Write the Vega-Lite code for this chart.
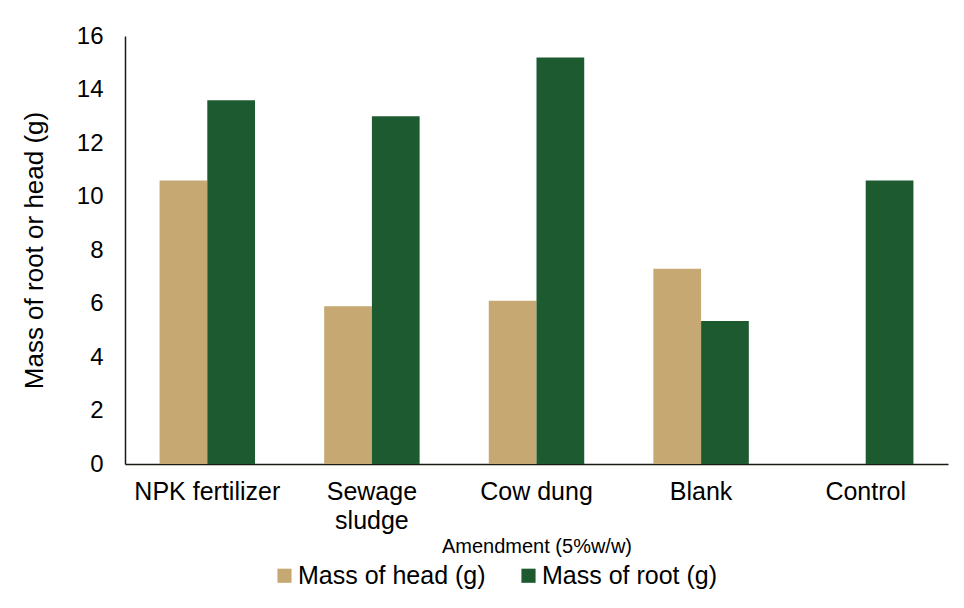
{
  "$schema": "https://vega.github.io/schema/vega-lite/v6.json",
  "width": 823,
  "height": 428,
  "autosize": "none",
  "padding": {"left": 125, "top": 36, "right": 16, "bottom": 144},
  "background": "white",
  "config": {
    "font": "Liberation Sans",
    "view": {"stroke": null},
    "axis": {"grid": false, "ticks": false, "domainColor": "#1a1a14", "domainWidth": 1.5, "labelColor": "#000", "titleColor": "#000", "labelFont": "Liberation Sans", "titleFont": "Liberation Sans", "titleFontWeight": "normal"}
  },
  "data": {
    "values": [
      {"amendment": "NPK fertilizer", "series": "Mass of head (g)", "value": 10.6},
      {"amendment": "NPK fertilizer", "series": "Mass of root (g)", "value": 13.6},
      {"amendment": "Sewage sludge", "series": "Mass of head (g)", "value": 5.9},
      {"amendment": "Sewage sludge", "series": "Mass of root (g)", "value": 13.0},
      {"amendment": "Cow dung", "series": "Mass of head (g)", "value": 6.1},
      {"amendment": "Cow dung", "series": "Mass of root (g)", "value": 15.2},
      {"amendment": "Blank", "series": "Mass of head (g)", "value": 7.3},
      {"amendment": "Blank", "series": "Mass of root (g)", "value": 5.35},
      {"amendment": "Control", "series": "Mass of head (g)", "value": 0},
      {"amendment": "Control", "series": "Mass of root (g)", "value": 10.6}
    ]
  },
  "mark": {"type": "bar"},
  "encoding": {
    "x": {
      "field": "amendment",
      "type": "nominal",
      "sort": ["NPK fertilizer", "Sewage sludge", "Cow dung", "Blank", "Control"],
      "scale": {"paddingInner": 0.42, "paddingOuter": 0.21},
      "axis": {
        "title": "Amendment (5%w/w)",
        "titleFontSize": 20,
        "titlePadding": 3,
        "labelAngle": 0,
        "labelFontSize": 25,
        "labelPadding": 15,
        "labelLineHeight": 29,
        "labelExpr": "datum.label == 'Sewage sludge' ? ['Sewage', 'sludge'] : datum.label"
      }
    },
    "xOffset": {"field": "series", "type": "nominal"},
    "y": {
      "field": "value",
      "type": "quantitative",
      "scale": {"domain": [0, 16]},
      "axis": {
        "title": "Mass of root or head (g)",
        "titleFontSize": 26,
        "titlePadding": 29,
        "labelFontSize": 24,
        "labelPadding": 22,
        "values": [0, 2, 4, 6, 8, 10, 12, 14, 16]
      }
    },
    "color": {
      "field": "series",
      "type": "nominal",
      "scale": {"domain": ["Mass of head (g)", "Mass of root (g)"], "range": ["#c6a972", "#1d5a30"]},
      "legend": {
        "title": null,
        "orient": "none",
        "legendX": 147,
        "legendY": 527,
        "direction": "horizontal",
        "symbolType": "square",
        "symbolSize": 200,
        "symbolStrokeWidth": 0,
        "labelFontSize": 25,
        "labelLimit": 400,
        "labelOffset": 1,
        "labelColor": "#000",
        "columnPadding": 30
      }
    }
  }
}
